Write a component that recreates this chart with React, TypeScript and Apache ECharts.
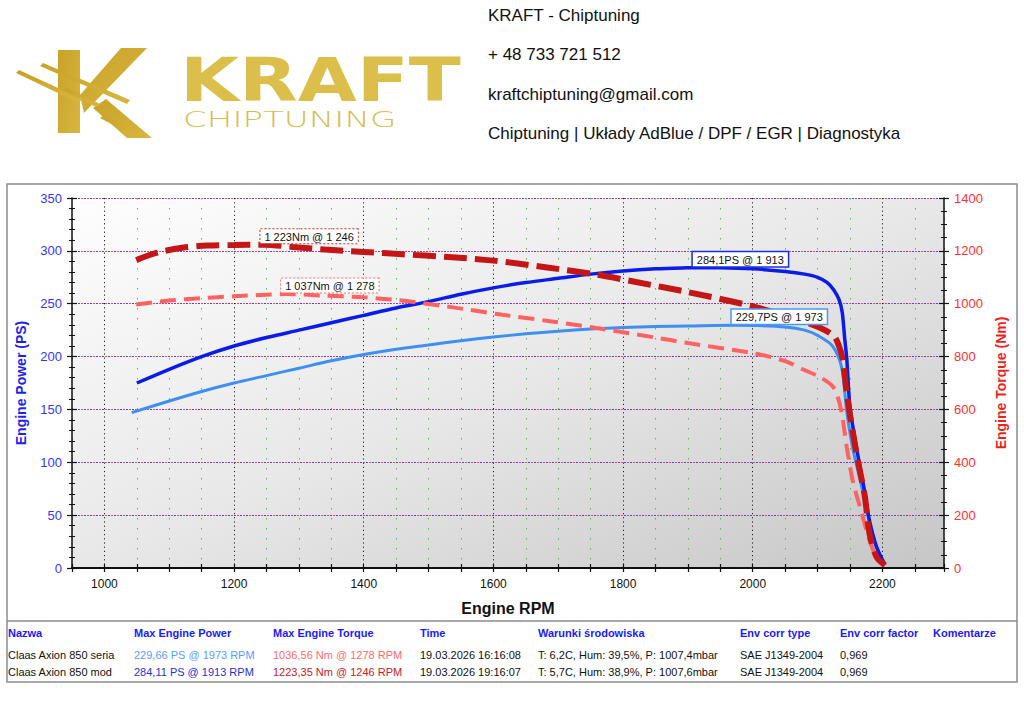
import React, { useEffect, useRef } from 'react';
import * as echarts from 'echarts';

// ---------- DATA ----------
const rpmModPower = [1050, 1100, 1150, 1200, 1250, 1300, 1350, 1400, 1450, 1500, 1550, 1600, 1650, 1700, 1750, 1800, 1850, 1900, 1913, 1950, 2000, 2050, 2080, 2100, 2115, 2125, 2133, 2138, 2142, 2145, 2150, 2160, 2173, 2180, 2191, 2204];
const modPower = [175, 188, 200, 210, 218, 225, 232, 239, 246, 252, 259, 265, 270, 274, 278, 281, 283, 284, 284.1, 284, 283, 280.5, 278, 275, 270, 263, 254, 242, 216, 198, 152, 114, 71, 45, 20, 3];

const rpmSerPower = [1042, 1100, 1150, 1200, 1250, 1300, 1350, 1400, 1450, 1500, 1550, 1600, 1650, 1700, 1750, 1800, 1850, 1900, 1973, 2000, 2050, 2080, 2100, 2123, 2137, 2145, 2154, 2168, 2178, 2188, 2201];
const serPower = [147, 158, 167, 175, 182, 189, 196, 202, 207, 211, 215, 218.5, 221.5, 224, 226, 227.5, 228.5, 229, 229.7, 229.5, 228, 225, 220, 210, 190, 148, 114, 77, 48, 24, 5];

const rpmModTorque = [1049, 1080, 1120, 1160, 1200, 1246, 1290, 1340, 1400, 1460, 1530, 1600, 1680, 1760, 1820, 1900, 2000, 2072, 2103, 2125, 2133, 2139, 2145, 2153, 2162, 2173, 2180, 2191, 2204];
const modTorque = [1165, 1192, 1212, 1220, 1222, 1223.35, 1215, 1205, 1196, 1187, 1177, 1163, 1138, 1110, 1082, 1044, 990, 938, 910, 878, 840, 787, 662, 534, 409, 269, 132, 42, 11];

const rpmSerTorque = [1049, 1100, 1150, 1200, 1250, 1278, 1336, 1400, 1455, 1532, 1614, 1687, 1764, 1850, 1900, 2000, 2050, 2077, 2103, 2123, 2131, 2137, 2145, 2154, 2168, 2180, 2191, 2204];
const serTorque = [997, 1012, 1021, 1028, 1034, 1036.56, 1031, 1024, 1013, 988, 958, 934, 906, 872, 851, 813, 783, 752, 723, 688, 648, 590, 458, 333, 208, 106, 42, 11];

const peakLabels = ['284,1PS @ 1 913', '229,7PS @ 1 973', '1 223Nm @ 1 246', '1 037Nm @ 1 278'];

const headerLines = ['KRAFT - Chiptuning', '+ 48 733 721 512', 'kraftchiptuning@gmail.com', 'Chiptuning | Układy AdBlue / DPF / EGR | Diagnostyka'];

const tableHeaders = ['Nazwa', 'Max Engine Power', 'Max Engine Torque', 'Time', 'Warunki środowiska', 'Env corr type', 'Env corr factor', 'Komentarze'];
const rowNames = ['Claas Axion 850 seria', 'Claas Axion 850 mod'];
const rowPower = ['229,66 PS @ 1973 RPM', '284,11 PS @ 1913 RPM'];
const rowTorque = ['1036,56 Nm @ 1278 RPM', '1223,35 Nm @ 1246 RPM'];
const rowTime = ['19.03.2026 16:16:08', '19.03.2026 19:16:07'];
const rowEnv = ['T: 6,2C, Hum: 39,5%, P: 1007,4mbar', 'T: 5,7C, Hum: 38,9%, P: 1007,6mbar'];
const rowCorrType = ['SAE J1349-2004', 'SAE J1349-2004'];
const rowCorrFactor = ['0,969', '0,969'];

// ---------- STYLE / LAYOUT ----------
const C_MODP = '#0a1de8';
const C_SERP = '#3d8ff2';
const C_MODT = '#c41616';
const C_SERT = '#ff6262';
const colX = [8, 134, 273, 420, 538, 740, 840, 933];
const FONT = '"Liberation Sans", Arial, sans-serif';

const pairs = (xs: number[], ys: number[]) => xs.map((x, i) => [x, ys[i]]);
const peakOf = (xs: number[], ys: number[]) => {
  let k = 0;
  ys.forEach((v, i) => { if (v > ys[k]) k = i; });
  return [xs[k], ys[k]];
};

function peakMark(coord: number[], text: string, border: string, dotted: boolean) {
  return {
    symbol: 'circle',
    symbolSize: 1,
    silent: true,
    z: 20,
    itemStyle: { color: 'rgba(0,0,0,0)' },
    data: [{ coord }],
    label: {
      show: true,
      formatter: text,
      position: [-3, -1],
      align: 'left',
      verticalAlign: 'bottom',
      color: '#111',
      fontFamily: FONT,
      fontSize: 11,
      backgroundColor: '#ffffff',
      borderColor: border,
      borderWidth: dotted ? 1 : 1.5,
      borderType: dotted ? 'dotted' : 'solid',
      padding: [2, 4, 1, 4],
    },
  };
}

export default function App() {
  const ref = useRef<HTMLDivElement>(null);
  useEffect(() => {
    const chart = echarts.init(ref.current!, null, { renderer: 'svg' });
    const goldIcon = new echarts.graphic.LinearGradient(0, 0, 1, 1, [
      { offset: 0, color: '#c9a226' },
      { offset: 1, color: '#d9b640' },
    ]);

    const graphics: any[] = [];
    // frame
    graphics.push({ type: 'rect', shape: { x: 7, y: 184, width: 1010, height: 498 }, style: { fill: 'none', stroke: '#8c8c8c', lineWidth: 1.5 }, z: -1 });
    graphics.push({ type: 'line', shape: { x1: 7, y1: 621, x2: 1017, y2: 621 }, style: { stroke: '#8c8c8c', lineWidth: 1.5 } });
    // header
    headerLines.forEach((t, i) => {
      graphics.push({ type: 'text', x: 488, y: 15 + i * 39.5, style: { text: t, font: `17px ${FONT}`, fill: '#111', verticalAlign: 'middle' } });
    });
    // logo icon
    const polys = [
      [[58, 50], [80, 50], [80, 133], [58, 133]],
      [[80, 95], [121, 48], [147, 48], [84, 113]],
      [[93, 108], [106, 99], [152, 138], [127, 138]],
      [[16, 73], [19, 70], [82, 99], [79, 103]],
      [[40, 66], [43, 63], [130, 100], [127, 104]],
      [[62, 90], [66, 87], [100, 104], [96, 107]],
      [[100, 118], [104, 115], [140, 135], [136, 137]],
    ];
    polys.forEach((p) => graphics.push({ type: 'polygon', shape: { points: p }, style: { fill: goldIcon } }));
    graphics.push({ type: 'text', x: 180, y: 80, scaleX: 1.27, style: { text: 'KRAFT', font: `bold 60px "DejaVu Sans", sans-serif`, fill: '#dbbf4a', verticalAlign: 'middle' } });
    graphics.push({ type: 'text', x: 183, y: 119, scaleX: 1.55, style: { text: 'CHIPTUNING', font: `300 22px "DejaVu Sans", sans-serif`, fill: '#d8bd50', verticalAlign: 'middle' } });
    // table
    const rows = [rowNames, rowPower, rowTorque, rowTime, rowEnv, rowCorrType, rowCorrFactor];
    const rowColors = [
      ['#111', '#111'],
      ['#5a9cff', '#2232d8'],
      ['#ff6a6a', '#c82020'],
      ['#111', '#111'], ['#111', '#111'], ['#111', '#111'], ['#111', '#111'],
    ];
    tableHeaders.forEach((h, i) => {
      graphics.push({ type: 'text', x: colX[i], y: 633, style: { text: h, font: `bold 11px ${FONT}`, fill: '#1a1aff', verticalAlign: 'middle' } });
    });
    rows.forEach((col, ci) => {
      col.forEach((t, ri) => {
        graphics.push({ type: 'text', x: colX[ci], y: 655 + ri * 17, style: { text: t, font: `11px ${FONT}`, fill: rowColors[ci][ri], verticalAlign: 'middle' } });
      });
    });

    const tr = 'rgba(0,0,0,0)';
    const green = '#5cb85c';
    const tickStyle = { color: '#111', width: 1.2 };

    const option: any = {
      animation: false,
      backgroundColor: '#ffffff',
      grid: {
        left: 72, right: 80, top: 198, bottom: 149,
        show: true,
        borderWidth: 0,
        backgroundColor: new echarts.graphic.LinearGradient(0, 0, 1, 1, [
          { offset: 0, color: '#fefefe' },
          { offset: 0.5, color: '#e8e8e8' },
          { offset: 1, color: '#c6c6c6' },
        ]),
      },
      graphic: graphics,
      xAxis: [
        {
          type: 'value', min: 950, max: 2295, interval: 50, position: 'bottom',
          axisLine: { show: true, lineStyle: { color: '#111', width: 2 } },
          axisTick: { show: true, length: 4, lineStyle: tickStyle },
          axisLabel: { formatter: (v: number) => (v % 200 === 0 ? String(v) : ''), color: '#111', fontFamily: FONT, fontSize: 12, margin: 10 },
          splitLine: { show: true, lineStyle: { color: [green, tr, green, green], type: [1.5, 8.5], width: 1 } },
          name: 'Engine RPM', nameLocation: 'middle', nameGap: 32,
          nameTextStyle: { color: '#111', fontFamily: FONT, fontSize: 16, fontWeight: 'bold' },
        },
        {
          type: 'value', min: 950, max: 2295, interval: 50, position: 'top',
          axisLine: { show: true, lineStyle: { color: '#111', width: 1.5 } },
          axisTick: { show: false },
          axisLabel: { show: false },
          splitLine: { show: true, lineStyle: { color: [tr, '#222', tr, tr], type: [1.2, 3], width: 1 } },
        },
        {
          type: 'value', min: 950, max: 2295, interval: 50, position: 'bottom',
          axisLine: { show: false },
          axisTick: { show: true, inside: true, length: 4, lineStyle: tickStyle },
          axisLabel: { show: false },
          splitLine: { show: false },
        },
      ],
      yAxis: [
        {
          type: 'value', min: 0, max: 350, interval: 50, position: 'left',
          axisLine: { show: true, lineStyle: { color: '#111', width: 1.5 } },
          axisTick: { show: true, length: 5, lineStyle: tickStyle },
          minorTick: { show: true, splitNumber: 5, length: 3, lineStyle: { color: '#111' } },
          axisLabel: { color: '#3535ff', fontFamily: FONT, fontSize: 13, margin: 10 },
          splitLine: { show: true, lineStyle: { color: '#4646ff', type: [2, 4], width: 1 } },
          name: 'Engine Power (PS)', nameLocation: 'middle', nameGap: 44,
          nameTextStyle: { color: '#1f1fee', fontFamily: FONT, fontSize: 14, fontWeight: 'bold' },
        },
        {
          type: 'value', min: 0, max: 1400, interval: 200, position: 'right',
          axisLine: { show: true, lineStyle: { color: '#111', width: 1.5 } },
          axisTick: { show: true, length: 5, lineStyle: tickStyle },
          minorTick: { show: true, splitNumber: 4, length: 3, lineStyle: { color: '#111' } },
          axisLabel: { color: '#ff3030', fontFamily: FONT, fontSize: 13, margin: 10, formatter: (v: number) => String(v) },
          splitLine: { show: true, lineStyle: { color: '#ff4646', type: [2, 4], dashOffset: 3, width: 1 } },
          name: 'Engine Torque (Nm)', nameLocation: 'middle', nameGap: 46,
          nameTextStyle: { color: '#ee1f1f', fontFamily: FONT, fontSize: 14, fontWeight: 'bold' },
        },
        {
          type: 'value', min: 0, max: 350, interval: 50, position: 'left',
          axisLine: { show: false },
          axisTick: { show: true, inside: true, length: 5, lineStyle: tickStyle },
          minorTick: { show: true, splitNumber: 5, length: 3, lineStyle: { color: '#111' } },
          axisLabel: { show: false }, splitLine: { show: false },
        },
        {
          type: 'value', min: 0, max: 1400, interval: 200, position: 'right',
          axisLine: { show: false },
          axisTick: { show: true, inside: true, length: 5, lineStyle: tickStyle },
          minorTick: { show: true, splitNumber: 4, length: 3, lineStyle: { color: '#111' } },
          axisLabel: { show: false }, splitLine: { show: false },
        },
      ],
      series: [
        {
          name: 'Claas Axion 850 seria PS', type: 'line', xAxisIndex: 0, yAxisIndex: 0,
          data: pairs(rpmSerPower, serPower), showSymbol: false, symbol: 'none',
          smooth: 0.3,
          lineStyle: { color: C_SERP, width: 3 },
          markPoint: peakMark(peakOf(rpmSerPower, serPower), peakLabels[1], '#4a9af5', false),
          z: 2,
        },
        {
          name: 'Claas Axion 850 mod PS', type: 'line', xAxisIndex: 0, yAxisIndex: 0,
          data: pairs(rpmModPower, modPower), showSymbol: false, symbol: 'none',
          smooth: 0.3,
          lineStyle: { color: C_MODP, width: 3.5 },
          markPoint: peakMark(peakOf(rpmModPower, modPower), peakLabels[0], '#1a2ee0', false),
          z: 3,
        },
        {
          name: 'Claas Axion 850 seria Nm', type: 'line', xAxisIndex: 0, yAxisIndex: 1,
          data: pairs(rpmSerTorque, serTorque), showSymbol: false, symbol: 'none',
          smooth: 0.3,
          lineStyle: { color: C_SERT, width: 4, type: [16, 8] },
          markPoint: peakMark(peakOf(rpmSerTorque, serTorque), peakLabels[3], '#ff6a6a', true),
          z: 3,
        },
        {
          name: 'Claas Axion 850 mod Nm', type: 'line', xAxisIndex: 0, yAxisIndex: 1,
          data: pairs(rpmModTorque, modTorque), showSymbol: false, symbol: 'none',
          smooth: 0.3,
          lineStyle: { color: C_MODT, width: 6, type: [23, 8] },
          markPoint: peakMark(peakOf(rpmModTorque, modTorque), peakLabels[2], '#d03030', true),
          z: 4,
        },
      ],
    };
    chart.setOption(option);
    return () => chart.dispose();
  }, []);
  return <div ref={ref} style={{ position: 'fixed', left: 0, top: 0, width: 1024, height: 717, background: '#fff' }} />;
}
